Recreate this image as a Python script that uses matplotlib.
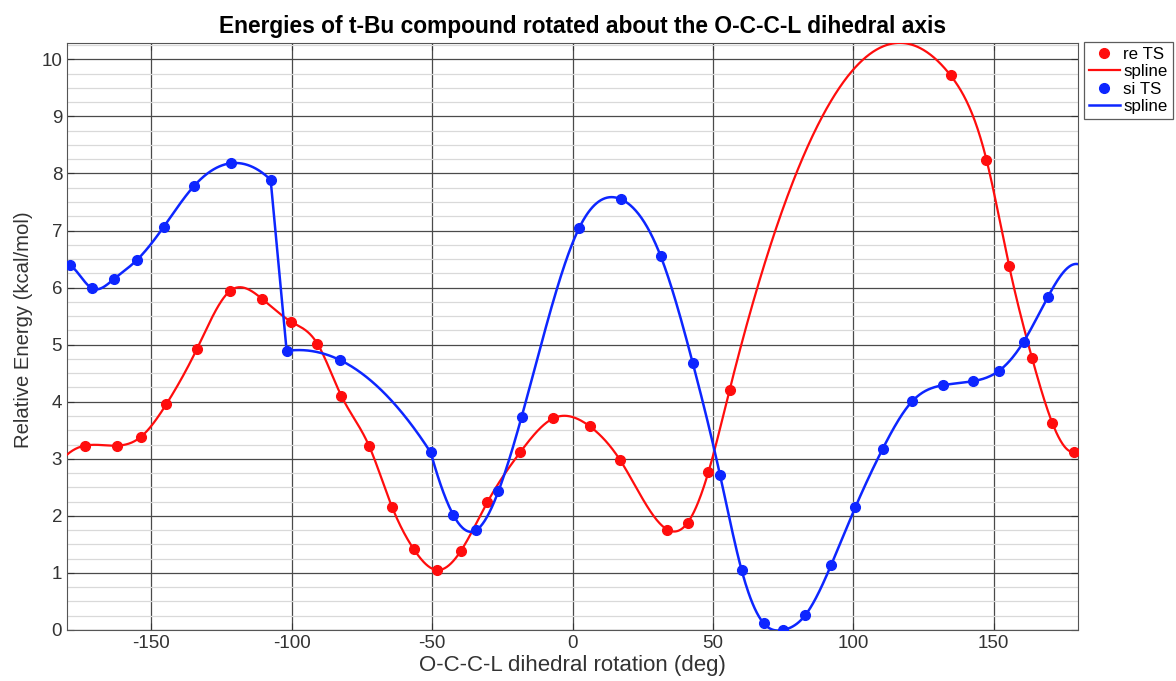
import numpy as np
import matplotlib
matplotlib.use('Agg')
import matplotlib.pyplot as plt
from matplotlib.ticker import MultipleLocator

plt.rcParams['font.family'] = ['Liberation Sans', 'DejaVu Sans']
plt.rcParams['axes.unicode_minus'] = False

# re TS energies (deg, kcal/mol)
re_angle = [-173.6, -162.3, -153.8, -144.6, -133.8, -122.0, -110.5, -100.1, -90.9, -82.3,
            -72.5, -64.3, -56.6, -48.4, -39.7, -30.3, -18.7, -6.8, 6.1, 16.9,
            33.7, 41.0, 48.4, 55.9, 134.6, 147.4, 155.5, 163.6, 170.9, 178.6]
re_energy = [3.23, 3.23, 3.38, 3.96, 4.92, 5.94, 5.80, 5.40, 5.02, 4.10,
             3.23, 2.16, 1.42, 1.05, 1.39, 2.24, 3.11, 3.71, 3.57, 2.98,
             1.76, 1.88, 2.77, 4.20, 9.72, 8.24, 6.37, 4.77, 3.62, 3.12]

# si TS energies
si_angle = [-178.9, -171.2, -163.3, -155.2, -145.5, -134.8, -121.6, -107.5, -101.8, -82.8,
            -50.5, -42.4, -34.4, -26.4, -18.1, 2.4, 17.2, 31.4, 42.8, 52.5,
            60.2, 68.0, 75.1, 82.9, 92.1, 100.7, 110.4, 121.0, 132.0, 142.6,
            151.8, 160.6, 169.3]
si_energy = [6.39, 5.99, 6.15, 6.48, 7.07, 7.78, 8.18, 7.89, 4.89, 4.73,
             3.11, 2.01, 1.745, 2.43, 3.74, 7.05, 7.55, 6.55, 4.68, 2.72,
             1.05, 0.12, 0.0, 0.26, 1.14, 2.15, 3.17, 4.01, 4.29, 4.36,
             4.54, 5.05, 5.84]
# the si scan pieces start at these angles (scan runs once round the circle)
si_breaks = [-101.8, -50.5]


def spline(x, y, xx):
    # not-a-knot cubic spline, like matlab's spline()
    x = np.asarray(x, float)
    y = np.asarray(y, float)
    n = len(x)
    if n == 3:
        return np.polyval(np.polyfit(x, y, 2), xx)
    h = np.diff(x)
    d = np.diff(y) / h
    A = np.zeros((n, n))
    b = np.zeros(n)
    A[0, 0], A[0, 1], A[0, 2] = h[1], -(h[0] + h[1]), h[0]
    A[-1, -3], A[-1, -2], A[-1, -1] = h[-1], -(h[-2] + h[-1]), h[-2]
    for i in range(1, n - 1):
        A[i, i - 1] = h[i - 1]
        A[i, i] = 2 * (h[i - 1] + h[i])
        A[i, i + 1] = h[i]
        b[i] = 6 * (d[i] - d[i - 1])
    M = np.linalg.solve(A, b)
    k = np.clip(np.searchsorted(x, xx) - 1, 0, n - 2)
    hk = h[k]
    a = x[k + 1] - xx
    c = xx - x[k]
    return (M[k] * a**3 / (6 * hk) + M[k + 1] * c**3 / (6 * hk)
            + (y[k] / hk - M[k] * hk / 6) * a + (y[k + 1] / hk - M[k + 1] * hk / 6) * c)


xx = np.linspace(-180, 180, 1441)
re_fit = spline(re_angle, re_energy, xx)

# unwrap si angles so the scan is continuous, fit each piece, wrap back
sa = np.array(si_angle)
se = np.array(si_energy)
su = np.where(sa < si_breaks[0], sa + 360, sa)
order = np.argsort(su)
su, se_u = su[order], se[order]
edges = si_breaks + [su[-1]]
px, py = [], []
for lo, hi in zip(edges[:-1], edges[1:]):
    m = (su >= lo - 1e-9) & (su <= hi + 1e-9)
    g = np.linspace(lo, hi, max(int((hi - lo) * 4), 20))
    if lo < 180 < hi:
        g = np.union1d(g, [180.0])
    v = spline(su[m], se_u[m], g)
    px.append(g)
    py.append(v)
xu = np.concatenate(px)
yu = np.concatenate(py)
xw = np.where(xu >= 180, xu - 360, xu)
xw = np.append(xw, 180.0)
yw = np.append(yu, yu[np.isclose(xu, 180)][0])
o = np.argsort(xw, kind='stable')
si_x, si_fit = xw[o], yw[o]

fig = plt.figure(figsize=(11.76, 6.81), dpi=100)
ax = fig.add_axes([0.057, 0.075, 0.8597, 0.862])

red = (1, 0.05, 0.05)
blue = (0.05, 0.15, 1)
ax.plot(re_angle, re_energy, 'o', color=red, markersize=7, label='re TS', zorder=3)
ax.plot(xx, re_fit, '-', color=red, lw=1.6, label='spline', zorder=3)
ax.plot(si_angle, si_energy, 'o', color=blue, markersize=7, label='si TS', zorder=4)
ax.plot(si_x, si_fit, '-', color=blue, lw=1.8, label='spline', zorder=4)

ax.set_xlim(-180, 180)
ax.set_ylim(0, max(re_fit.max(), si_fit.max()))
ax.xaxis.set_major_locator(MultipleLocator(50))
ax.yaxis.set_major_locator(MultipleLocator(1))
ax.yaxis.set_minor_locator(MultipleLocator(0.25))
ax.grid(which='major', color='#4a4a4a', lw=0.9)
ax.grid(which='minor', axis='y', color='#d9d9d9', lw=0.9)
ax.set_axisbelow(True)
ax.tick_params(which='both', direction='in', top=True, right=True, labelsize=13.5,
               colors='#333333', length=5)
ax.tick_params(which='minor', length=0)
for s in ax.spines.values():
    s.set_color('#555555')

ax.set_title('Energies of t-Bu compound rotated about the O-C-C-L dihedral axis',
             fontsize=16.4, fontweight='bold', pad=7, x=0.51)
ax.set_xlabel('O-C-C-L dihedral rotation (deg)', fontsize=16, color='#333333', labelpad=2)
ax.set_ylabel('Relative Energy (kcal/mol)', fontsize=14.6, color='#333333', labelpad=7)
ax.yaxis.set_label_coords(-0.034, 0.511)

leg = ax.legend(loc='upper left', bbox_to_anchor=(1.006, 1.002), fontsize=12.2,
                frameon=True, fancybox=False, edgecolor='#333333', handlelength=1.8,
                handletextpad=0.2, labelspacing=0.14, borderpad=0.3, borderaxespad=0)
leg.get_frame().set_linewidth(0.9)

fig.savefig('out.png', dpi=100)
